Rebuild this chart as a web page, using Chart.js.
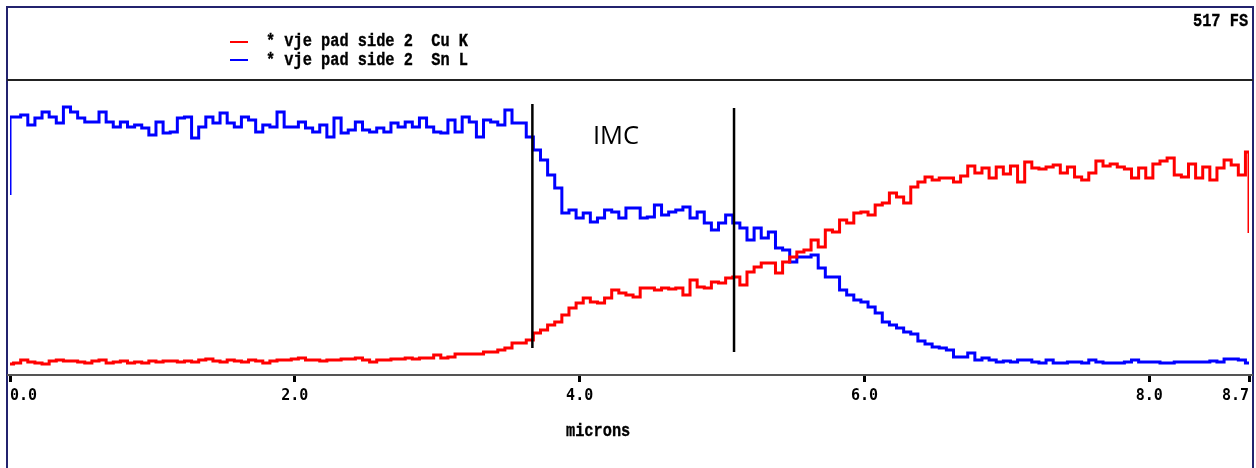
<!DOCTYPE html>
<html>
<head>
<meta charset="utf-8">
<script src="https://cdn.jsdelivr.net/npm/chart.js@4"></script>
<style>
html,body{margin:0;padding:0;background:#fff;}
body{width:1256px;height:468px;position:relative;overflow:hidden;}
#frame{position:absolute;left:6px;top:6px;width:1248px;height:480px;border:2px solid #23236e;box-sizing:border-box;}
#sep{position:absolute;left:7px;top:79px;width:1246px;height:2px;background:#222;}
#axisline{position:absolute;left:7px;top:374px;width:1246px;height:2px;background:#555;}
canvas{position:absolute;left:0;top:0;}
.mono{position:absolute;font-family:"Liberation Mono",monospace;font-weight:bold;font-size:15.3px;line-height:15.3px;white-space:pre;color:#000;transform:scale(1,1.25);transform-origin:0 11.73px;-webkit-text-stroke:0.3px #000;}
.lg{position:absolute;width:18px;height:2px;}
#imc{position:absolute;left:593px;top:122.4px;font-family:"Open Sans",sans-serif;font-size:25.5px;line-height:25.5px;color:#000;white-space:pre;}
</style>
</head>
<body>
<div id="frame"></div>
<div id="sep"></div>
<div id="axisline"></div>
<canvas id="c" width="1254" height="468"></canvas>
<div class="lg" style="left:230px;top:41px;background:#ff0000;"></div>
<div class="lg" style="left:230px;top:59px;background:#0000ff;"></div>
<div class="mono" id="lg1" style="left:266px;top:34.8px;"></div>
<div class="mono" id="lg2" style="left:266px;top:53.8px;"></div>
<div class="mono" id="fs" style="left:1193px;top:15.3px;"></div>
<div class="mono" id="xt" style="left:566px;top:425.3px;"></div>
<div id="imc"></div>
<script>
// ---- data ----
const STEP = 0.05;               // microns between samples
const seriesNames = ["* vje pad side 2  Cu K", "* vje pad side 2  Sn L"];
const fullScaleLabel = "517 FS";
const xTitle = "microns";
const xTicks = [0, 2, 4, 6, 8, 8.7];

const cuK = [
 11,12,15,13,12,11,14,15,14,14,13,12,14,15,12,13,14,12,13,12,14,13,14,14,13,14,13,15,16,14,13,15,14,13,15,14,12,14,15,15,16,17,15,15,
 14,15,15,16,16,17,15,13,15,15,16,16,17,16,17,17,20,17,18,21,21,21,21,23,23,25,27,32,32,35,42,45,50,53,60,67,72,77,73,72,77,85,82,80,
 78,87,87,85,87,86,87,80,95,88,87,93,92,97,98,90,103,108,112,112,102,113,118,123,125,135,128,145,143,155,152,162,163,160,170,172,182,178,172,188,193,198,195,
 197,197,193,199,209,202,207,197,208,201,209,193,213,207,206,208,210,202,208,198,195,202,214,209,211,208,206,197,207,197,211,214,217,200,198,211,197,208,195,207,215,210,200,223
];
const cuKEnd = 142;   // value the trace falls to at the right edge

const snL = [
 258,258,260,250,257,263,258,252,268,263,257,253,253,263,253,248,253,248,250,247,240,253,242,243,257,258,237,248,258,252,262,252,248,258,255,243,250,248,263,248,248,253,247,243,
 250,238,257,242,245,253,245,243,247,243,252,248,253,248,257,248,243,242,255,243,258,253,238,255,253,250,265,252,252,238,225,215,200,187,162,165,157,162,153,157,165,163,157,167,
 167,157,158,170,160,163,165,168,157,163,152,145,152,160,152,147,135,147,137,143,127,125,113,118,118,120,107,98,98,85,80,75,73,68,62,53,50,47,43,41,34,31,28,
 27,25,18,18,22,15,17,15,13,14,13,15,15,13,12,15,12,12,13,13,12,15,13,12,12,12,13,15,13,13,13,12,12,13,13,13,13,13,14,13,16,16,15,12
];
const snLStart = 180; // value the trace rises from at the left edge

const imcLabel = "IMC";
const imcBounds = [3.668, 5.084];  // microns
const imcTop = [271, 267];
const imcBottom = [27, 23];

// ---- build ----
const microns = cuK.map((_, i) => +(i * STEP).toFixed(3));
const cuData = microns.map((x, i) => ({x, y: cuK[i]}));
cuData.push({x: microns[microns.length - 1], y: cuKEnd});
const snData = [{x: 0, y: snLStart}].concat(microns.map((x, i) => ({x, y: snL[i]})));

document.getElementById('lg1').textContent = seriesNames[0];
document.getElementById('lg2').textContent = seriesNames[1];
document.getElementById('fs').textContent = fullScaleLabel;
document.getElementById('xt').textContent = xTitle;
document.getElementById('imc').textContent = imcLabel;

const annot = {
  id: 'annot',
  afterDatasetsDraw(chart) {
    const {ctx, scales: {x, y}} = chart;
    ctx.save();
    ctx.strokeStyle = '#000';
    ctx.lineWidth = 2.5;
    imcBounds.forEach((b, i) => {
      const px = x.getPixelForValue(b);
      ctx.beginPath();
      ctx.moveTo(px, y.getPixelForValue(imcTop[i]));
      ctx.lineTo(px, y.getPixelForValue(imcBottom[i]));
      ctx.stroke();
    });
    ctx.restore();
  }
};

new Chart(document.getElementById('c'), {
  type: 'line',
  data: {
    datasets: [
      {label: 'Cu K', data: cuData, borderColor: '#ff0000', borderWidth: 3, pointRadius: 0, stepped: 'middle', fill: false},
      {label: 'Sn L', data: snData, borderColor: '#0000ff', borderWidth: 3, pointRadius: 0, stepped: 'middle', fill: false}
    ]
  },
  options: {
    responsive: false,
    animation: false,
    events: [],
    layout: {padding: {left: 10, right: 3, top: 80, bottom: 0}},
    plugins: {legend: {display: false}, tooltip: {enabled: false}},
    scales: {
      x: {
        type: 'linear', min: 0, max: 8.7,
        afterFit(s) { s.height = 93; },
        afterBuildTicks(s) { s.ticks = xTicks.map(v => ({value: v})); },
        ticks: {
          align: 'inner', autoSkip: false, maxRotation: 0, minRotation: 0, padding: 5,
          color: '#000',
          font: {family: 'DejaVu Sans Mono', weight: 'bold', size: 15},
          callback: v => Number(v).toFixed(1)
        },
        grid: {display: true, drawOnChartArea: false, drawTicks: true, tickLength: 7, tickWidth: 3, tickColor: '#000'},
        border: {display: true, color: '#555', width: 2}
      },
      y: {display: false, min: 0, max: 295}
    }
  },
  plugins: [annot]
});
</script>
</body>
</html>
